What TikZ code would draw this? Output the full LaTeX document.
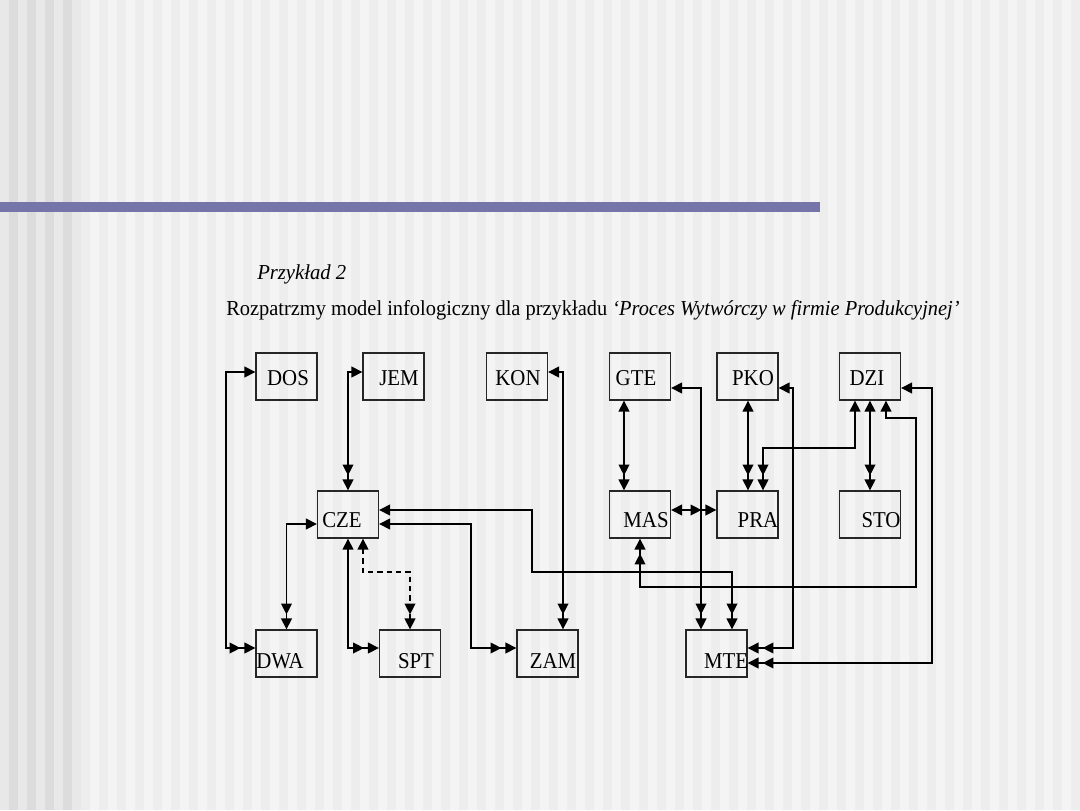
\documentclass[tikz,border=0pt]{standalone}
\usepackage{fontspec}
\setmainfont{Liberation Serif}
\newfontfamily\lblfont[FakeStretch=0.92]{Liberation Serif}
\usetikzlibrary{arrows.meta,calc}
\definecolor{stripeLL}{HTML}{E8E8E8}
\definecolor{stripeDL}{HTML}{DCDCDC}
\definecolor{stripeL}{HTML}{F4F4F4}
\definecolor{stripeD}{HTML}{EDEDED}
\definecolor{barcol}{RGB}{117,117,170}
\newsavebox\fitbox
\newcommand\fitw[2]{\sbox\fitbox{#2}\resizebox{#1}{\ht\fitbox}{\usebox\fitbox}}
\begin{document}
\begin{tikzpicture}[x=0.75pt,y=-0.75pt,
  ent/.style={draw=black!85, line width=0.9pt, minimum width=45.75pt, minimum height=35.25pt, inner sep=0pt},
  lbl/.style={anchor=base, inner sep=0pt, font=\lblfont\fontsize{17}{20}\selectfont},
  rel/.style={line width=1.4pt, arrows={Triangle[length=8.2pt,width=8pt]-Triangle[length=8.2pt,width=8pt,sep=3pt]Triangle[length=8.2pt,width=8pt]}}]
\useasboundingbox (0,0) rectangle (1080,810);
% background stripes
\foreach \i in {0,...,119}{
  \ifnum\i<9 \ifodd\i \def\c{stripeDL}\else\def\c{stripeLL}\fi
  \else \ifodd\i \def\c{stripeD}\else\def\c{stripeL}\fi\fi
  \fill[\c] (9*\i,0) rectangle (9*\i+9,810);
}
\fill[barcol] (0,202) rectangle (820,212);
% headings
\node[anchor=base west, inner sep=0pt, font=\fontsize{16}{19}\selectfont] (h1) at (257,279) {\fitw{66.75pt}{\itshape Przykład 2}};
\node[anchor=base west, inner sep=0pt, font=\fontsize{16}{19}\selectfont] (h2) at (226,315) {\fitw{550pt}{Rozpatrzmy model infologiczny dla przykładu \itshape ‘Proces Wytwórczy w firmie Produkcyjnej’}};
% entities
\node[ent] (DOS) at (286.5,376.5) {};
\node[ent] (JEM) at (393.5,376.5) {};
\node[ent] (KON) at (517,376.5) {};
\node[ent] (GTE) at (640,376.5) {};
\node[ent] (PKO) at (747.5,376.5) {};
\node[ent] (DZI) at (870,376.5) {};
\node[ent] (CZE) at (348,514.5) {};
\node[ent] (MAS) at (640,514.5) {};
\node[ent] (PRA) at (747.5,514.5) {};
\node[ent] (STO) at (870,514.5) {};
\node[ent] (DWA) at (286.5,653.5) {};
\node[ent] (SPT) at (410,653.5) {};
\node[ent] (ZAM) at (547.5,653.5) {};
\node[ent] (MTE) at (716.5,653.5) {};
% labels
\node[lbl] (tDOS) at (288,385) {DOS};
\node[lbl] (tJEM) at (399,385) {JEM};
\node[lbl] (tKON) at (518,385) {KON};
\node[lbl] (tGTE) at (636,385) {GTE};
\node[lbl] (tPKO) at (753,385) {PKO};
\node[lbl] (tDZI) at (867,385) {DZI};
\node[lbl] (tCZE) at (342,527) {CZE};
\node[lbl] (tMAS) at (646,527) {MAS};
\node[lbl] (tPRA) at (758,527) {PRA};
\node[lbl] (tSTO) at (881,527) {STO};
\node[lbl] (tDWA) at (280,668) {DWA};
\node[lbl] (tSPT) at (416,668) {SPT};
\node[lbl] (tZAM) at (553,668) {ZAM};
\node[lbl] (tMTE) at (726,668) {MTE};
% relationships
\draw[rel] ($(DOS.west)+(0,-4.5)$) -| (226,648) -- ($(DWA.west)+(0,-5.5)$);
\draw[rel] ($(JEM.west)+(0,-4.5)$) -| (CZE.north);
\draw[rel] ($(KON.east)+(0,-4.5)$) -| ($(ZAM.north)+(15.5,0)$);
\draw[rel] ($(GTE.south)+(-16,0)$) -- ($(MAS.north)+(-16,0)$);
\draw[rel] ($(GTE.east)+(0,11.5)$) -| ($(MTE.north)+(-15.5,0)$);
\draw[rel] ($(PKO.south)+(0.5,0)$) -- ($(PRA.north)+(0.5,0)$);
\draw[rel] ($(PKO.east)+(0,11.5)$) -| (793,648) -- ($(MTE.east)+(0,-5.5)$);
\draw[rel] ($(DZI.south)+(-15,0)$) |- (763,448) -- ($(PRA.north)+(15.5,0)$);
\draw[rel] (DZI.south) -- (STO.north);
\draw[rel] ($(DZI.south)+(16,0)$) |- (916,418) |- (640,587) -- (MAS.south);
\draw[rel] ($(DZI.east)+(0,11.5)$) -| (932,663) -- ($(MTE.east)+(0,9.5)$);
\draw[rel] ($(MAS.east)+(0,-4.5)$) -- ($(PRA.west)+(0,-4.5)$);
\draw[rel] ($(CZE.east)+(0,-4.5)$) -| (532,572) -| ($(MTE.north)+(15.5,0)$);
\draw[rel] ($(CZE.east)+(0,9.5)$) -| (471,648) -- ($(ZAM.west)+(0,-5.5)$);
\draw[rel] ($(CZE.west)+(0,9.5)$) -| (DWA.north);
\draw[rel] (CZE.south) |- ($(SPT.west)+(0,-5.5)$);
\draw[rel, dash pattern=on 4pt off 3pt] ($(CZE.south)+(15,0)$) |- (410,572) -- (SPT.north);
\end{tikzpicture}
\end{document}
